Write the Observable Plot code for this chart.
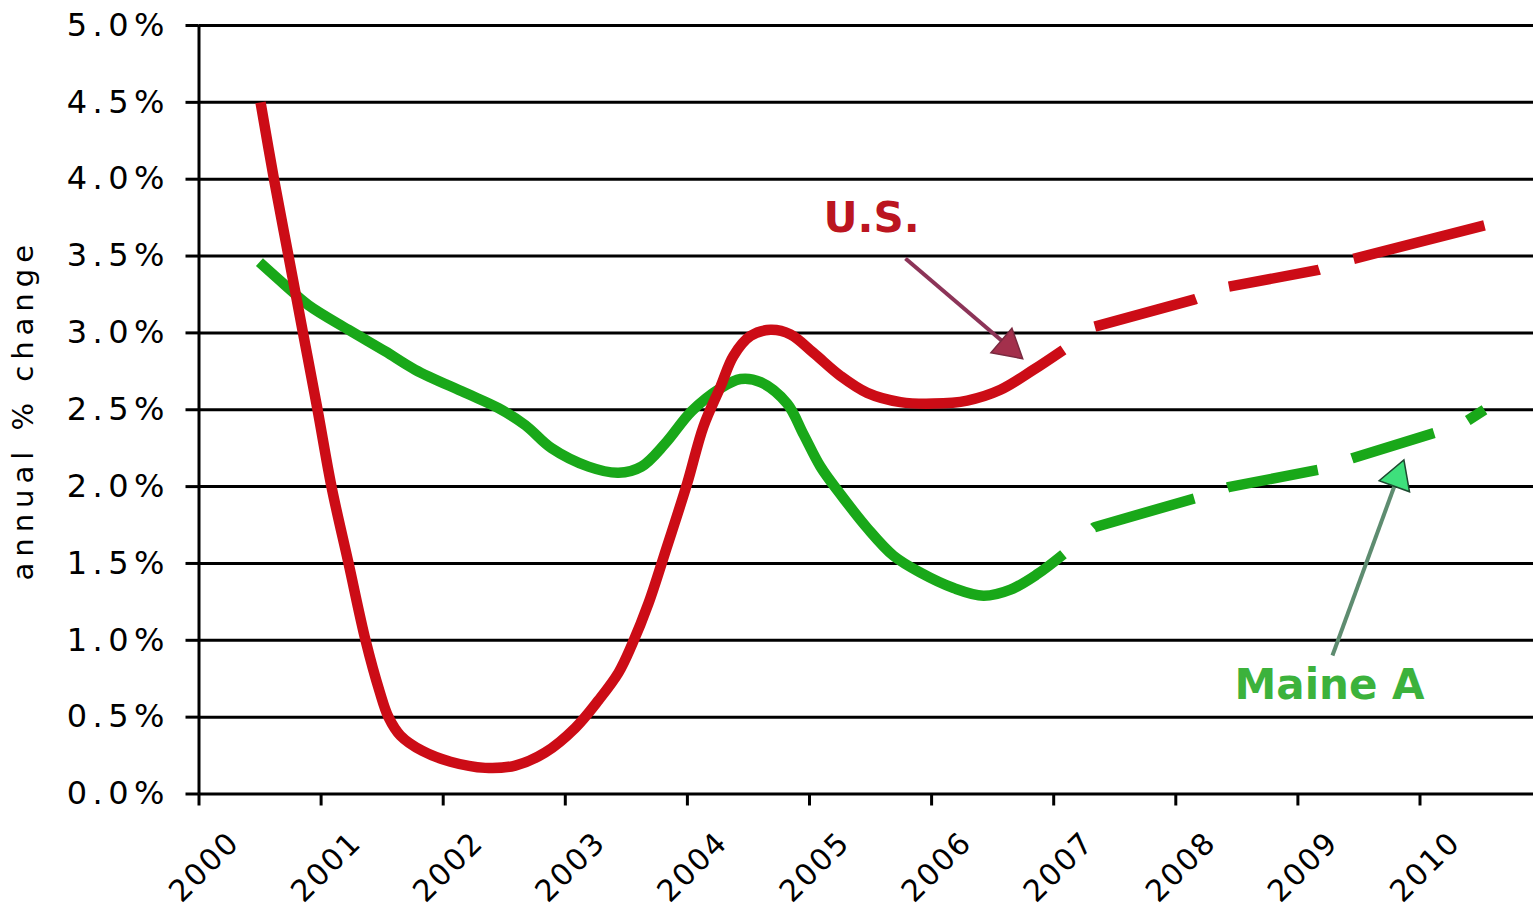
<!DOCTYPE html>
<html>
<head>
<meta charset="utf-8">
<script src="https://cdn.jsdelivr.net/npm/d3@7"></script>
<script src="https://cdn.jsdelivr.net/npm/@observablehq/plot@0.6"></script>
<style>
  html, body { margin: 0; padding: 0; background: #ffffff; }
</style>
</head>
<body>
<script>
// ---- categories / ticks ----
const years = [2000, 2001, 2002, 2003, 2004, 2005, 2006, 2007, 2008, 2009, 2010];
const gridValues = [0, 0.5, 1, 1.5, 2, 2.5, 3, 3.5, 4, 4.5, 5];

// ---- U.S. series (annual % change), solid (actual) part ----
const usSolidX = [2000.504, 2000.614, 2000.733, 2000.852, 2000.971, 2001.085, 2001.225, 2001.364,
  2001.478, 2001.552, 2001.650, 2001.830, 2002.060, 2002.344, 2002.590, 2002.835, 2003.081, 2003.272, 2003.436,
  2003.545, 2003.681, 2003.829, 2003.998, 2004.131, 2004.271, 2004.377, 2004.517, 2004.681,
  2004.845, 2005.033, 2005.254, 2005.473, 2005.745, 2006.016, 2006.292, 2006.564, 2006.834, 2007.080];
const usSolidY = [4.50, 4.00, 3.50, 3.00, 2.50, 2.00, 1.50, 1.00,
  0.67, 0.50, 0.38, 0.28, 0.21, 0.17, 0.185, 0.27, 0.43, 0.61, 0.79,
  0.97, 1.24, 1.60, 2.02, 2.39, 2.65, 2.85, 2.98, 3.02,
  2.99, 2.87, 2.72, 2.61, 2.55, 2.54, 2.56, 2.63, 2.76, 2.89];
// ---- U.S. series, dashed (forecast) part ----
const usDashX = [2007.080, 2007.334, 2008.161, 2008.431, 2009.168, 2009.446, 2010.528];
const usDashY = [2.89, 3.04, 3.22, 3.30, 3.41, 3.48, 3.70];

// ---- Maine series, solid part ----
const meSolidX = [2000.495, 2000.706, 2000.897, 2001.225, 2001.525, 2001.771, 2002.180, 2002.453,
  2002.672, 2002.887, 2003.190, 2003.436, 2003.624, 2003.818, 2004.034, 2004.271, 2004.435,
  2004.599, 2004.817, 2004.951, 2005.090, 2005.254, 2005.473, 2005.688, 2005.909, 2006.180,
  2006.425, 2006.646, 2006.865, 2007.080];
const meSolidY = [3.46, 3.31, 3.18, 3.02, 2.88, 2.76, 2.61, 2.51,
  2.40, 2.25, 2.13, 2.09, 2.13, 2.28, 2.49, 2.64, 2.70,
  2.68, 2.54, 2.34, 2.13, 1.95, 1.73, 1.55, 1.44, 1.34,
  1.29, 1.33, 1.43, 1.56];
// ---- Maine series, dashed part ----
const meDashX = [2007.080, 2007.334, 2008.161, 2008.431, 2009.168, 2009.446, 2010.118, 2010.372, 2010.528];
const meDashY = [1.56, 1.736, 1.925, 1.996, 2.11, 2.185, 2.35, 2.42, 2.50];

// ---- annotations ----
const labelNames = ["U.S.", "Maine A"];
const labelX = [2005.508, 2009.259];
const labelY = [3.744, 0.706];
const arrowX1 = [2005.786, 2009.283];
const arrowY1 = [3.484, 0.901];
const arrowX2 = [2006.630, 2009.816];
const arrowY2 = [2.911, 2.059];
const arrowAngle = [130.5, 20];

const RED = "#cc0c16";
const GREEN = "#19a819";

const toRows = (xs, ys) => xs.map((x, i) => ({x, y: ys[i]}));
const usSolid = toRows(usSolidX, usSolidY);
const usDash = toRows(usDashX, usDashY);
const meSolid = toRows(meSolidX, meSolidY);
const meDash = toRows(meDashX, meDashY);
const labels = labelNames.map((t, i) => ({t, x: labelX[i], y: labelY[i], c: i === 0 ? "#bb1520" : "#3cb23c"}));
const arrows = arrowX1.map((x1, i) => ({x1, y1: arrowY1[i], x2: arrowX2[i], y2: arrowY2[i], a: arrowAngle[i],
  s: i === 0 ? "#8c3458" : "#5e8c70", f: i === 0 ? "#a3304c" : "#3ee07c", o: i === 0 ? "#7a2a40" : "#1d4a30"}));

const chart = Plot.plot({
  width: 1533,
  height: 916,
  marginLeft: 198.5,
  marginRight: 0,
  marginTop: 25,
  marginBottom: 122.5,
  x: {domain: [2000, 2000 + (1533 - 198.5) / 122.1]},
  y: {domain: [0, 5]},
  style: {fontFamily: "'DejaVu Sans', Verdana, sans-serif", background: "#ffffff", color: "#000"},
  marks: [
    Plot.ruleY(gridValues, {stroke: "#000", strokeWidth: 3}),
    Plot.ruleX([2000], {stroke: "#000", strokeWidth: 3}),
    Plot.axisY({ticks: gridValues, tickFormat: d => d.toFixed(1) + "%", tickSize: 13, tickPadding: 16,
      fontSize: 32, strokeWidth: 3, stroke: "#000", label: null}),
    Plot.axisX({ticks: years, tickSize: 12, tickFormat: () => "", strokeWidth: 3, stroke: "#000", label: null}),
    Plot.text(years, {x: d => d + 0.5, text: d => String(d), frameAnchor: "bottom", rotate: -45,
      textAnchor: "end", lineAnchor: "bottom", dx: -19, dy: 50, fontSize: 30, fill: "#000"}),
    Plot.text(["annual % change"], {frameAnchor: "left", rotate: -90, textAnchor: "middle", dx: -175, fontSize: 29,
      fill: "#000"}),
    // Maine (green) under U.S. (red)
    Plot.line(meSolid, {x: "x", y: "y", stroke: GREEN, strokeWidth: 10.5, curve: "catmull-rom", strokeLinecap: "butt"}),
    Plot.line(meDash, {x: "x", y: "y", stroke: GREEN, strokeWidth: 10.5, strokeLinecap: "butt",
      strokeDasharray: "0,40,105,35,92,36,86,36,40"}),
    Plot.line(usSolid, {x: "x", y: "y", stroke: RED, strokeWidth: 10.5, curve: "catmull-rom", strokeLinecap: "butt"}),
    Plot.line(usDash, {x: "x", y: "y", stroke: RED, strokeWidth: 10.5, strokeLinecap: "butt",
      strokeDasharray: "0,39,105,35,92,36,140"}),
    // arrows
    Plot.link(arrows, {x1: "x1", y1: "y1", x2: "x2", y2: "y2", stroke: "s", strokeWidth: 4}),
    Plot.dot(arrows, {x: "x2", y: "y2", symbol: "triangle", r: 12, rotate: "a", fill: "f", stroke: "o", strokeWidth: 1.5}),
    // labels
    Plot.text(labels, {x: "x", y: "y", text: "t", fill: "c", fontSize: 42, fontWeight: "bold"})
  ]
});
document.body.appendChild(chart);

// letter spacing to match the wide, pixel-style lettering
const sel = d3.select(chart).selectAll("text");
sel.filter(function () { return /%$/.test(this.textContent) && this.textContent.length <= 4; })
  .attr("letter-spacing", 5.5);
sel.filter(function () { return /^20\d\d$/.test(this.textContent); })
  .attr("letter-spacing", 2);
sel.filter(function () { return this.textContent === "annual % change"; })
  .attr("letter-spacing", 6);
</script>
</body>
</html>
